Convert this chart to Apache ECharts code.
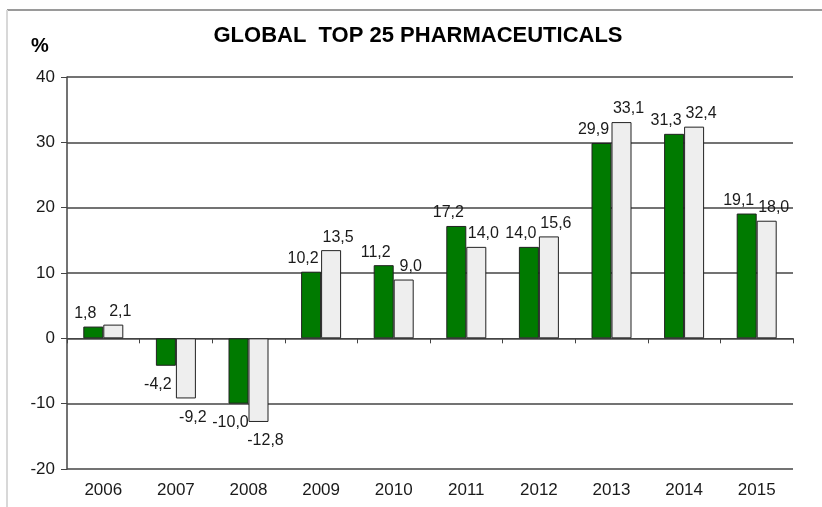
<!DOCTYPE html>
<html>
<head>
    <meta charset="utf-8">
    <title>Global top 25 pharmaceuticals</title>
    <script src="https://cdn.jsdelivr.net/npm/echarts@6/dist/echarts.min.js"></script>
</head>
<body style="margin:0;background:#fff;">
<div id="main" style="width:822px;height:507px;"></div>
<script type="text/javascript">
    // years on the x axis
    var years = ['2006', '2007', '2008', '2009', '2010', '2011', '2012', '2013', '2014', '2015'];
    // green series
    var greenVals = [1.8, -4.2, -10.0, 10.2, 11.2, 17.2, 14.0, 29.9, 31.3, 19.1];
    // light grey series
    var greyVals = [2.1, -9.2, -12.8, 13.5, 9.0, 14.0, 15.6, 33.1, 32.4, 18.0];

    var txt = '#1a1a1a';
    var fnt = 'Arial, "Liberation Sans", sans-serif';

    function fmt(p) {
        return p.value.toFixed(1).replace('.', ',');
    }

    function mkSeries(vals, color, dx) {
        return {
            type: 'bar',
            xAxisIndex: 0,
            barWidth: 20,
            barGap: '0%',
            itemStyle: {color: color, borderColor: '#222', borderWidth: 1},
            label: {
                show: true,
                position: 'top',
                distance: 5,
                offset: [dx, 0],
                color: txt,
                fontFamily: fnt,
                fontSize: 16,
                formatter: fmt
            },
            // negative bars get their label underneath
            data: vals.map(function (v) {
                if (v >= 0) return v;
                return {value: v, label: {position: 'bottom', distance: 11}};
            })
        };
    }

    var myChart = echarts.init(document.getElementById('main'));
    var option = {
        backgroundColor: '#fff',
        animation: false,
        title: {
            text: 'GLOBAL  TOP 25 PHARMACEUTICALS',
            left: 413,
            textAlign: 'center',
            top: 20,
            textStyle: {fontFamily: fnt, fontSize: 22, fontWeight: 'bold', color: '#000'}
        },
        graphic: [
            {type: 'line', shape: {x1: 7, y1: 10, x2: 822, y2: 10}, style: {stroke: '#9a9a9a', lineWidth: 2}},
            {type: 'line', shape: {x1: 7, y1: 10, x2: 7, y2: 507}, style: {stroke: '#d8d8d8', lineWidth: 2}},
            {type: 'text', left: 31, top: 36, style: {text: '%', font: 'bold 20px ' + fnt, fill: '#000'}}
        ],
        grid: {left: 67, right: 29, top: 77, bottom: 38, containLabel: false, outerBoundsMode: 'none'},
        xAxis: [{
            // year labels along the bottom
            type: 'category',
            data: years,
            position: 'bottom',
            axisLine: {show: false, onZero: false},
            axisTick: {show: false},
            axisLabel: {color: txt, fontFamily: fnt, fontSize: 17, margin: 13}
        }, {
            // zero line with the category ticks
            type: 'category',
            data: years,
            position: 'bottom',
            axisLine: {show: true, onZero: true, lineStyle: {color: '#444', width: 1}},
            axisTick: {show: true, length: 5, lineStyle: {color: '#444'}},
            axisLabel: {show: false}
        }],
        yAxis: {
            type: 'value',
            min: -20,
            max: 40,
            interval: 10,
            axisLine: {show: true, lineStyle: {color: '#444', width: 1.5}},
            axisTick: {show: true, length: 6, lineStyle: {color: '#444'}},
            axisLabel: {color: txt, fontFamily: fnt, fontSize: 17, margin: 12},
            splitLine: {lineStyle: {color: '#444', width: 1.5}}
        },
        series: [
            mkSeries(greenVals, '#007a00', -8),
            mkSeries(greyVals, '#eeeeee', 7)
        ]
    };
    myChart.setOption(option);
</script>
</body>
</html>
